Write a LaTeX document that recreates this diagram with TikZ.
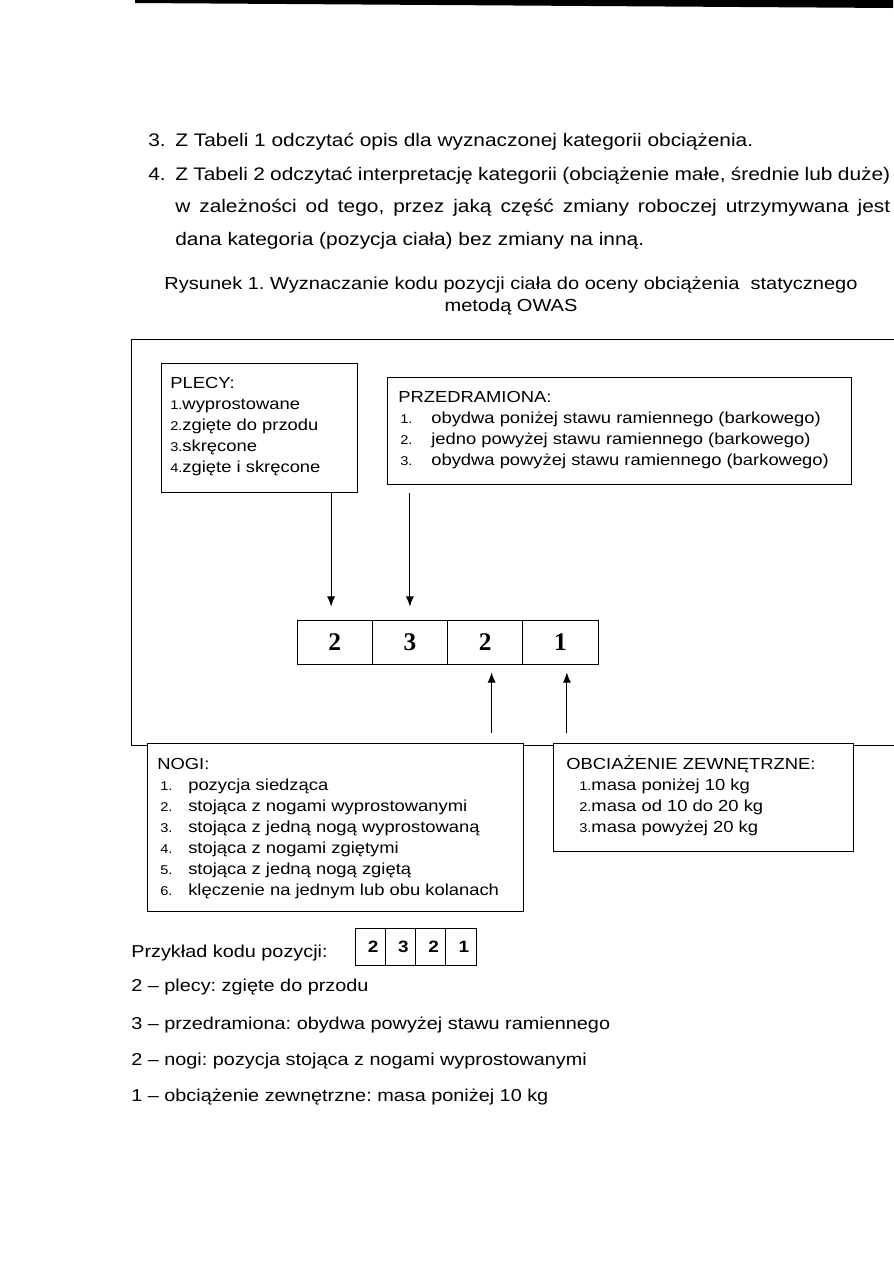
\documentclass[tikz,border=0pt]{standalone}
\usepackage{fontspec}
\setmainfont{Liberation Sans}[FakeStretch=1.15]
\newfontfamily\cyfry{Liberation Serif}
\usetikzlibrary{arrows.meta}
\newlength\pxl
\setlength\pxl{0.2352mm}
\frenchspacing

\begin{document}
\begin{tikzpicture}[x=0.2352mm, y=-0.2352mm, >={Latex[length=2.4mm,width=1.9mm]},
    ramka/.style={draw, line width=0.6pt, fill=white, inner sep=0pt, anchor=north west},
    txt/.style={inner sep=0pt, anchor=base west, font=\fontsize{10.7}{12}\selectfont},
    nr/.style={inner sep=0pt, anchor=base west, font=\fontsize{8.5}{9}\selectfont},
    tresc/.style={inner sep=0pt, anchor=base west, font=\fontsize{12.15}{22}\selectfont},
    dol/.style={inner sep=0pt, anchor=base west, font=\fontsize{11.55}{12}\selectfont},
    kratka/.style={draw, line width=0.6pt, minimum width=75.25\pxl, minimum height=44\pxl,
        inner sep=0pt, font=\cyfry\bfseries\fontsize{17}{17}\selectfont},
    kratka2/.style={draw, line width=0.6pt, minimum width=30.25\pxl, minimum height=37\pxl,
        inner sep=0pt, font=\bfseries\fontsize{11}{11}\selectfont},
    strz/.style={->, line width=0.6pt}]
    \useasboundingbox (0,0) rectangle (893,1263);

    % Pasek u gory strony
    \fill (135,0) -- (893,0) -- (893,8) -- (135,3) -- cycle;

    % Punkty 3 i 4
    \node[tresc] (n3) at (148,146) {3.};
    \node[tresc] (p3) at (175,146) {Z Tabeli 1 odczytać opis dla wyznaczonej kategorii obciążenia.};
    \node[tresc] (n4) at (148,180) {4.};
    \node[tresc, text width=715\pxl, align=justify] (p4) at (175,180)
        {Z Tabeli 2 odczytać interpretację kategorii (obciążenie małe, średnie lub duże)\linebreak
         w zależności od tego, przez jaką część zmiany roboczej utrzymywana jest\linebreak
         dana kategoria (pozycja ciała) bez zmiany na inną.};

    % Podpis rysunku
    \node[inner sep=0pt, anchor=base, font=\fontsize{11.65}{12}\selectfont] (pod1) at (511,289)
        {Rysunek 1. Wyznaczanie kodu pozycji ciała do oceny obciążenia\ \ statycznego};
    \node[inner sep=0pt, anchor=base, font=\fontsize{11.65}{12}\selectfont] (pod2) at (511,311) {metodą OWAS};

    % Ramka rysunku
    \draw[line width=0.6pt] (131,339) rectangle (910,745);

    % Plecy
    \node[ramka, minimum width=196\pxl, minimum height=129\pxl] (plecy) at (161,363) {};
    \node[txt] (plecyT) at (170,388) {PLECY:};
    \foreach \t [count=\i] in {wyprostowane, zgięte do przodu, skręcone, zgięte i skręcone}
        \node[txt] (plecy\i) at (170,{388+21*\i}) {{\fontsize{8.5}{9}\selectfont\i.}\t};

    % Przedramiona
    \node[ramka, minimum width=464\pxl, minimum height=107\pxl] (przed) at (387,377) {};
    \node[txt] (przedT) at (398,402) {PRZEDRAMIONA:};
    \foreach \t [count=\i] in {obydwa poniżej stawu ramiennego (barkowego),
        jedno powyżej stawu ramiennego (barkowego), obydwa powyżej stawu ramiennego (barkowego)} {
        \node[nr] (przedN\i) at (400,{402+21.3*\i}) {\i.};
        \node[txt] (przed\i) at (431,{402+21.3*\i}) {\t};
    }

    % Kod pozycji
    \foreach \d [count=\i] in {2,3,2,1}
        \node[kratka] (k\i) at ({297+75.25*(\i-0.5)},642) {\d};

    % Nogi
    \node[ramka, minimum width=376\pxl, minimum height=168\pxl] (nogi) at (147,743) {};
    \node[txt] (nogiT) at (157,769) {NOGI:};
    \foreach \t [count=\i] in {pozycja siedząca, stojąca z nogami wyprostowanymi,
        stojąca z jedną nogą wyprostowaną, stojąca z nogami zgiętymi,
        stojąca z jedną nogą zgiętą, klęczenie na jednym lub obu kolanach} {
        \node[nr] (nogiN\i) at (160,{769+21*\i}) {\i.};
        \node[txt] (nogi\i) at (188,{769+21*\i}) {\t};
    }

    % Obciazenie zewnetrzne
    \node[ramka, minimum width=300\pxl, minimum height=108\pxl] (obc) at (553,743) {};
    \node[txt] (obcT) at (566,769) {OBCIAŻENIE ZEWNĘTRZNE:};
    \foreach \t [count=\i] in {masa poniżej 10 kg, masa od 10 do 20 kg, masa powyżej 20 kg}
        \node[txt] (obc\i) at (579,{769+21*\i}) {{\fontsize{8.5}{9}\selectfont\i.}\t};

    % Strzalki
    \coordinate (g1) at ([xshift=-3.5\pxl]k1.north);
    \coordinate (g2) at (k2.north);
    \coordinate (d3) at ([xshift=6.5\pxl]k3.south);
    \coordinate (d4) at ([xshift=6.5\pxl]k4.south);
    \draw[strz, shorten >=13\pxl] (plecy.south -| g1) -- (g1);
    \draw[strz, shorten <=8\pxl, shorten >=13\pxl] (przed.south -| g2) -- (g2);
    \draw[strz, shorten <=10\pxl, shorten >=8\pxl] (nogi.north -| d3) -- (d3);
    \draw[strz, shorten <=10\pxl, shorten >=8\pxl] (obc.north -| d4) -- (d4);

    % Przyklad
    \node[dol] (przyklad) at (131,957) {Przykład kodu pozycji:};
    \foreach \d [count=\i] in {2,3,2,1}
        \node[kratka2] (m\i) at ({355+30.25*(\i-0.5)},946.5) {\hspace{6\pxl}\d};
    \node[dol] (w1) at (131,991) {2 – plecy: zgięte do przodu};
    \node[dol] (w2) at (131,1029) {3 – przedramiona: obydwa powyżej stawu ramiennego};
    \node[dol] (w3) at (131,1065) {2 – nogi: pozycja stojąca z nogami wyprostowanymi};
    \node[dol] (w4) at (131,1101) {1 – obciążenie zewnętrzne: masa poniżej 10 kg};
\end{tikzpicture}
\end{document}
